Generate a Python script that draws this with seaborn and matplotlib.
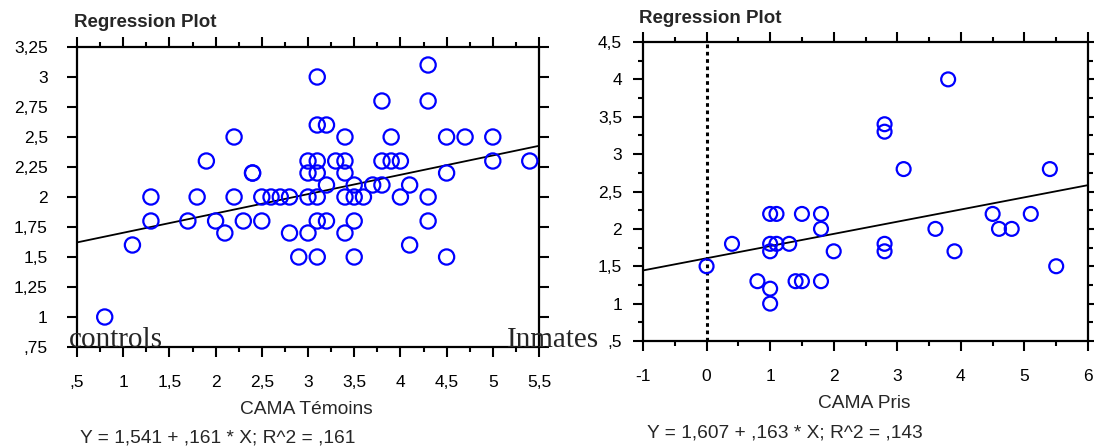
import matplotlib
matplotlib.use("Agg")
import matplotlib.pyplot as plt
import seaborn as sns
import numpy as np
from matplotlib.ticker import MultipleLocator, FuncFormatter

# ---------------- data ----------------
ctrl_x = [0.8, 1.1, 1.3, 1.3, 1.7, 1.8, 1.9, 2.0, 2.1, 2.2, 2.2, 2.3, 2.4, 2.4,
          2.5, 2.5, 2.6, 2.7, 2.8, 2.8, 2.9, 3.0, 3.0, 3.0, 3.0, 3.1, 3.1, 3.1,
          3.1, 3.1, 3.1, 3.1, 3.2, 3.2, 3.2, 3.3, 3.4, 3.4, 3.4, 3.4, 3.4, 3.5,
          3.5, 3.5, 3.5, 3.6, 3.7, 3.8, 3.8, 3.8, 3.9, 3.9, 4.0, 4.0, 4.1, 4.1,
          4.3, 4.3, 4.3, 4.3, 4.5, 4.5, 4.5, 4.7, 5.0, 5.0, 5.4]
ctrl_y = [1.0, 1.6, 2.0, 1.8, 1.8, 2.0, 2.3, 1.8, 1.7, 2.5, 2.0, 1.8, 2.2, 2.2,
          2.0, 1.8, 2.0, 2.0, 2.0, 1.7, 1.5, 2.3, 2.2, 2.0, 1.7, 3.0, 2.6, 2.3,
          2.2, 2.0, 1.8, 1.5, 2.6, 2.1, 1.8, 2.3, 2.5, 2.3, 2.2, 2.0, 1.7, 2.1,
          2.0, 1.8, 1.5, 2.0, 2.1, 2.8, 2.3, 2.1, 2.5, 2.3, 2.3, 2.0, 2.1, 1.6,
          3.1, 2.8, 2.0, 1.8, 2.5, 2.2, 1.5, 2.5, 2.5, 2.3, 2.3]

pris_x = [0.0, 0.4, 0.8, 1.0, 1.0, 1.0, 1.0, 1.0, 1.1, 1.1, 1.3, 1.4, 1.5, 1.5,
          1.8, 1.8, 1.8, 2.0, 2.8, 2.8, 2.8, 2.8, 3.1, 3.6, 3.8, 3.9, 4.5, 4.6,
          4.8, 5.1, 5.4, 5.5]
pris_y = [1.5, 1.8, 1.3, 2.2, 1.8, 1.7, 1.2, 1.0, 2.2, 1.8, 1.8, 1.3, 2.2, 1.3,
          2.2, 2.0, 1.3, 1.7, 3.4, 3.3, 1.8, 1.7, 2.8, 2.0, 4.0, 1.7, 2.2, 2.0,
          2.0, 2.2, 2.8, 1.5]

ctrl_intercept, ctrl_slope = 1.541, 0.161
pris_intercept, pris_slope = 1.607, 0.163

titles = ["Regression Plot", "Regression Plot"]
xlabels = ["CAMA Témoins", "CAMA Pris"]
equations = ["Y = 1,541 + ,161 * X; R^2 = ,161",
             "Y = 1,607 + ,163 * X; R^2 = ,143"]
group_labels = ["controls", "Inmates"]

# ---------------- figure ----------------
W, H = 1094, 447
sns.set_theme(style="white")
plt.rcParams["font.family"] = ["Liberation Sans", "DejaVu Sans"]

fig = plt.figure(figsize=(W / 100, H / 100), dpi=100)


def box(x0, y0, x1, y1):
    return [x0 / W, 1 - y1 / H, (x1 - x0) / W, (y1 - y0) / H]


def fx(px):
    return px / W


def fy(py):
    return 1 - py / H


def fmt(v, pos=None):
    if abs(v) < 1e-9:
        return "0"
    s = f"{v:g}"
    if s.startswith("0."):
        s = s[1:]
    return s.replace(".", ",")


ax1 = fig.add_axes(box(77, 47, 539, 347))
ax2 = fig.add_axes(box(643, 42, 1088, 341))

TICK_FS = 12.5
LAB_FS = 13.8
blue = "#0000ff"

for ax, xs, ys, b0, b1, xlim, ylim in [
        (ax1, ctrl_x, ctrl_y, ctrl_intercept, ctrl_slope, (0.5, 5.5), (0.75, 3.25)),
        (ax2, pris_x, pris_y, pris_intercept, pris_slope, (-1, 6), (0.5, 4.5))]:
    ax.set_xlim(*xlim)
    ax.set_ylim(*ylim)
    sns.scatterplot(x=xs, y=ys, ax=ax, s=120 if ax is ax1 else 100,
                    facecolors="none", edgecolor=blue, linewidth=1.6,
                    marker="o", zorder=3)
    ax.axline((0, b0), slope=b1, color="black", lw=1.3, zorder=2)
    for sp in ax.spines.values():
        sp.set_visible(True)
        sp.set_color("black")
        sp.set_linewidth(1.6)
    ax.tick_params(which="both", direction="out", top=True, right=True,
                   bottom=True, left=True, labeltop=False, labelright=False,
                   color="black", width=1.5, labelsize=TICK_FS, labelcolor="black")
    ax.tick_params(which="major", length=7)
    ax.tick_params(which="minor", length=3.5)
    ax.tick_params(axis="x", which="major", pad=13)
    ax.xaxis.set_major_formatter(FuncFormatter(fmt))
    ax.yaxis.set_major_formatter(FuncFormatter(fmt))
    ax.grid(False)
    ax.set_facecolor("white")

ax1.tick_params(axis="y", which="major", pad=14)
ax2.tick_params(axis="y", which="major", pad=8)

ax1.xaxis.set_major_locator(MultipleLocator(0.5))
ax1.xaxis.set_minor_locator(MultipleLocator(0.25))
ax1.yaxis.set_major_locator(MultipleLocator(0.25))
ax2.xaxis.set_major_locator(MultipleLocator(1))
ax2.xaxis.set_minor_locator(MultipleLocator(0.5))
ax2.yaxis.set_major_locator(MultipleLocator(0.5))
ax2.yaxis.set_minor_locator(MultipleLocator(0.25))

ax2.axvline(0, color="black", lw=2.2, ls=(0, (1.2, 1.2)), zorder=2)

# titles, axis labels, equations
fig.text(fx(74), fy(27), titles[0], fontsize=13.5, fontweight="bold",
         ha="left", va="baseline")
fig.text(fx(639), fy(23), titles[1], fontsize=13.5, fontweight="bold",
         ha="left", va="baseline")
fig.text(fx(306), fy(409), xlabels[0], fontsize=LAB_FS, ha="center", va="center")
fig.text(fx(864), fy(403), xlabels[1], fontsize=LAB_FS, ha="center", va="center")
fig.text(fx(80), fy(438), equations[0], fontsize=LAB_FS, ha="left", va="center")
fig.text(fx(647), fy(433), equations[1], fontsize=LAB_FS, ha="left", va="center")

# group labels (serif)
fig.text(fx(69), fy(347), group_labels[0], fontsize=21,
         family=["Liberation Serif", "DejaVu Serif"], ha="left", va="baseline")
fig.text(fx(599), fy(347), group_labels[1], fontsize=21,
         family=["Liberation Serif", "DejaVu Serif"], ha="right", va="baseline")

fig.savefig("out.png", dpi=100, facecolor="white")
